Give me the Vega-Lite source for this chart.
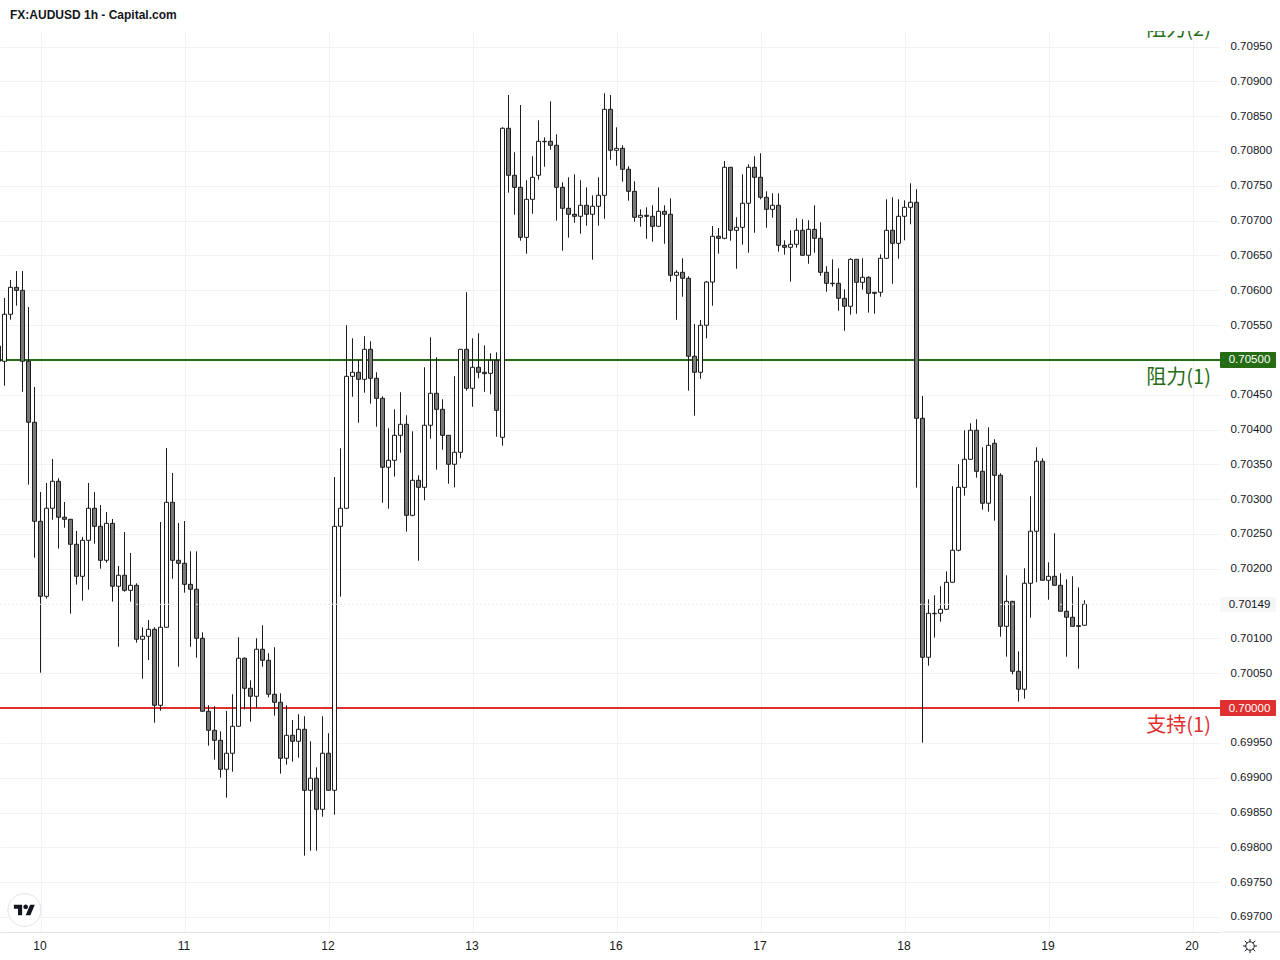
{
  "$schema": "https://vega.github.io/schema/vega-lite/v6.json",
  "width": 1220,
  "height": 901,
  "autosize": {"type": "none"},
  "padding": {"left": 0, "top": 31, "right": 60, "bottom": 28},
  "background": "white",
  "title": {"text": "FX:AUDUSD 1h - Capital.com", "anchor": "start", "frame": "group", "dx": 10, "offset": 9, "fontSize": 12, "fontWeight": "bold", "font": "Liberation Sans", "color": "#131722"},
  "datasets": {
    "levels": [
      {"price": 0.71, "name": "阻力(2)", "kind": "resistance"},
      {"price": 0.705, "name": "阻力(1)", "kind": "resistance"},
      {"price": 0.7, "name": "支持(1)", "kind": "support"}
    ],
    "last": [{"price": 0.70149}],
    "candles": [
      {"t":-7,"o":0.704980,"h":0.705286,"l":0.704980,"c":0.705199},
      {"t":-6,"o":0.704980,"h":0.705889,"l":0.704629,"c":0.705655},
      {"t":-5,"o":0.705655,"h":0.706147,"l":0.705577,"c":0.706042},
      {"t":-4,"o":0.706042,"h":0.706276,"l":0.705778,"c":0.705999},
      {"t":-3,"o":0.705999,"h":0.706276,"l":0.704543,"c":0.704980},
      {"t":-2,"o":0.704980,"h":0.705759,"l":0.703208,"c":0.704104},
      {"t":-1,"o":0.704104,"h":0.704611,"l":0.702159,"c":0.702682},
      {"t":0,"o":0.702682,"h":0.703103,"l":0.700508,"c":0.701605},
      {"t":1,"o":0.701605,"h":0.703232,"l":0.701571,"c":0.702869},
      {"t":2,"o":0.702869,"h":0.703577,"l":0.702705,"c":0.703257},
      {"t":3,"o":0.703257,"h":0.703300,"l":0.702289,"c":0.702740},
      {"t":4,"o":0.702740,"h":0.702959,"l":0.702590,"c":0.702711},
      {"t":5,"o":0.702711,"h":0.702711,"l":0.701355,"c":0.702352},
      {"t":6,"o":0.702352,"h":0.702543,"l":0.701772,"c":0.701892},
      {"t":7,"o":0.701892,"h":0.702457,"l":0.701542,"c":0.702409},
      {"t":8,"o":0.702409,"h":0.703232,"l":0.701700,"c":0.702869},
      {"t":9,"o":0.702869,"h":0.703103,"l":0.702360,"c":0.702610},
      {"t":10,"o":0.702610,"h":0.702916,"l":0.702001,"c":0.702122},
      {"t":11,"o":0.702122,"h":0.702816,"l":0.702088,"c":0.702653},
      {"t":12,"o":0.702653,"h":0.702715,"l":0.701528,"c":0.701749},
      {"t":13,"o":0.701749,"h":0.702040,"l":0.700881,"c":0.701907},
      {"t":14,"o":0.701907,"h":0.702528,"l":0.701671,"c":0.701691},
      {"t":15,"o":0.701691,"h":0.702227,"l":0.701528,"c":0.701763},
      {"t":16,"o":0.701763,"h":0.701792,"l":0.700939,"c":0.700988},
      {"t":17,"o":0.700988,"h":0.701160,"l":0.700422,"c":0.701031},
      {"t":18,"o":0.701031,"h":0.701265,"l":0.700690,"c":0.701131},
      {"t":19,"o":0.701131,"h":0.701160,"l":0.699790,"c":0.700040},
      {"t":20,"o":0.700040,"h":0.702672,"l":0.699962,"c":0.701160},
      {"t":21,"o":0.701160,"h":0.703735,"l":0.701160,"c":0.702955},
      {"t":22,"o":0.702955,"h":0.703376,"l":0.701858,"c":0.702122},
      {"t":23,"o":0.702122,"h":0.702658,"l":0.700594,"c":0.702079},
      {"t":24,"o":0.702079,"h":0.702686,"l":0.701657,"c":0.701777},
      {"t":25,"o":0.701777,"h":0.702251,"l":0.700881,"c":0.701706},
      {"t":26,"o":0.701706,"h":0.702251,"l":0.700723,"c":0.701002},
      {"t":27,"o":0.701002,"h":0.701088,"l":0.699954,"c":0.699954},
      {"t":28,"o":0.699954,"h":0.700040,"l":0.699460,"c":0.699681},
      {"t":29,"o":0.699681,"h":0.700026,"l":0.699259,"c":0.699537},
      {"t":30,"o":0.699537,"h":0.699666,"l":0.699000,"c":0.699121},
      {"t":31,"o":0.699121,"h":0.699958,"l":0.698713,"c":0.699351},
      {"t":32,"o":0.699351,"h":0.700198,"l":0.699086,"c":0.699738},
      {"t":33,"o":0.699738,"h":0.701016,"l":0.699738,"c":0.700715},
      {"t":34,"o":0.700715,"h":0.700729,"l":0.699983,"c":0.700284},
      {"t":35,"o":0.700284,"h":0.700399,"l":0.699804,"c":0.700169},
      {"t":36,"o":0.700169,"h":0.701002,"l":0.699997,"c":0.700844},
      {"t":37,"o":0.700844,"h":0.701189,"l":0.700594,"c":0.700686},
      {"t":38,"o":0.700686,"h":0.700787,"l":0.700155,"c":0.700198},
      {"t":39,"o":0.700198,"h":0.700873,"l":0.699891,"c":0.700083},
      {"t":40,"o":0.700083,"h":0.700212,"l":0.699058,"c":0.699279},
      {"t":41,"o":0.699279,"h":0.700040,"l":0.699187,"c":0.699609},
      {"t":42,"o":0.699609,"h":0.699829,"l":0.699230,"c":0.699523},
      {"t":43,"o":0.699523,"h":0.699911,"l":0.699287,"c":0.699695},
      {"t":44,"o":0.699695,"h":0.699882,"l":0.697880,"c":0.698819},
      {"t":45,"o":0.698819,"h":0.699523,"l":0.697952,"c":0.698992},
      {"t":46,"o":0.698992,"h":0.699149,"l":0.697952,"c":0.698546},
      {"t":47,"o":0.698546,"h":0.699882,"l":0.698440,"c":0.699351},
      {"t":48,"o":0.699351,"h":0.699638,"l":0.698819,"c":0.698819},
      {"t":49,"o":0.698819,"h":0.703318,"l":0.698469,"c":0.702610},
      {"t":50,"o":0.702610,"h":0.703730,"l":0.701599,"c":0.702869},
      {"t":51,"o":0.702869,"h":0.705497,"l":0.702869,"c":0.704764},
      {"t":52,"o":0.704764,"h":0.705310,"l":0.704471,"c":0.704822},
      {"t":53,"o":0.704822,"h":0.704998,"l":0.704098,"c":0.704721},
      {"t":54,"o":0.704721,"h":0.705339,"l":0.704529,"c":0.705152},
      {"t":55,"o":0.705152,"h":0.705267,"l":0.704371,"c":0.704736},
      {"t":56,"o":0.704736,"h":0.704822,"l":0.704041,"c":0.704448},
      {"t":57,"o":0.704448,"h":0.704477,"l":0.702949,"c":0.703458},
      {"t":58,"o":0.703458,"h":0.704018,"l":0.702863,"c":0.703558},
      {"t":59,"o":0.703558,"h":0.704290,"l":0.703323,"c":0.703917},
      {"t":60,"o":0.703917,"h":0.704535,"l":0.703667,"c":0.704075},
      {"t":61,"o":0.704075,"h":0.704204,"l":0.702533,"c":0.702768},
      {"t":62,"o":0.702768,"h":0.703975,"l":0.702754,"c":0.703271},
      {"t":63,"o":0.703271,"h":0.703343,"l":0.702116,"c":0.703170},
      {"t":64,"o":0.703170,"h":0.704894,"l":0.702984,"c":0.704061},
      {"t":65,"o":0.704061,"h":0.705324,"l":0.703868,"c":0.704520},
      {"t":66,"o":0.704520,"h":0.705037,"l":0.703423,"c":0.704290},
      {"t":67,"o":0.704290,"h":0.704434,"l":0.703710,"c":0.703917},
      {"t":68,"o":0.703917,"h":0.703917,"l":0.703222,"c":0.703501},
      {"t":69,"o":0.703501,"h":0.704764,"l":0.703170,"c":0.703673},
      {"t":70,"o":0.703673,"h":0.705152,"l":0.703587,"c":0.705152},
      {"t":71,"o":0.705152,"h":0.705971,"l":0.704558,"c":0.704592},
      {"t":72,"o":0.704592,"h":0.705310,"l":0.704328,"c":0.704894},
      {"t":73,"o":0.704894,"h":0.705382,"l":0.704736,"c":0.704822},
      {"t":74,"o":0.704822,"h":0.705209,"l":0.704543,"c":0.704802},
      {"t":75,"o":0.704807,"h":0.705095,"l":0.704506,"c":0.704994},
      {"t":76,"o":0.704994,"h":0.705109,"l":0.703897,"c":0.704276},
      {"t":77,"o":0.703888,"h":0.708340,"l":0.703768,"c":0.708326},
      {"t":78,"o":0.708326,"h":0.708804,"l":0.707401,"c":0.707651},
      {"t":79,"o":0.707651,"h":0.707981,"l":0.707085,"c":0.707478},
      {"t":80,"o":0.707478,"h":0.708660,"l":0.706712,"c":0.706760},
      {"t":81,"o":0.706760,"h":0.707579,"l":0.706525,"c":0.707306},
      {"t":82,"o":0.707306,"h":0.707924,"l":0.707099,"c":0.707622},
      {"t":83,"o":0.707651,"h":0.708440,"l":0.707588,"c":0.708139},
      {"t":84,"o":0.708133,"h":0.708196,"l":0.707774,"c":0.708139},
      {"t":85,"o":0.708139,"h":0.708713,"l":0.708018,"c":0.708082},
      {"t":86,"o":0.708082,"h":0.708239,"l":0.706999,"c":0.707478},
      {"t":87,"o":0.707478,"h":0.707550,"l":0.706568,"c":0.707177},
      {"t":88,"o":0.707177,"h":0.707622,"l":0.706755,"c":0.707091},
      {"t":89,"o":0.707091,"h":0.707665,"l":0.706970,"c":0.707062},
      {"t":90,"o":0.707062,"h":0.707579,"l":0.706812,"c":0.707220},
      {"t":91,"o":0.707220,"h":0.707478,"l":0.706927,"c":0.707091},
      {"t":92,"o":0.707091,"h":0.707363,"l":0.706439,"c":0.707206},
      {"t":93,"o":0.707206,"h":0.707622,"l":0.706927,"c":0.707363},
      {"t":94,"o":0.707363,"h":0.708828,"l":0.707027,"c":0.708598},
      {"t":95,"o":0.708598,"h":0.708804,"l":0.707875,"c":0.708010},
      {"t":96,"o":0.708010,"h":0.708340,"l":0.707788,"c":0.708038},
      {"t":97,"o":0.708038,"h":0.708082,"l":0.707559,"c":0.707737},
      {"t":98,"o":0.707737,"h":0.707780,"l":0.707286,"c":0.707421},
      {"t":99,"o":0.707421,"h":0.707565,"l":0.706984,"c":0.707048},
      {"t":100,"o":0.707048,"h":0.707162,"l":0.706913,"c":0.707076},
      {"t":101,"o":0.707076,"h":0.707191,"l":0.706740,"c":0.707062},
      {"t":102,"o":0.707062,"h":0.707220,"l":0.706697,"c":0.706918},
      {"t":103,"o":0.706918,"h":0.707478,"l":0.706918,"c":0.707134},
      {"t":104,"o":0.707134,"h":0.707220,"l":0.706668,"c":0.707091},
      {"t":105,"o":0.707091,"h":0.707320,"l":0.706123,"c":0.706215},
      {"t":106,"o":0.706215,"h":0.706287,"l":0.705577,"c":0.706258},
      {"t":107,"o":0.706258,"h":0.706459,"l":0.705907,"c":0.706172},
      {"t":108,"o":0.706172,"h":0.706200,"l":0.704558,"c":0.705052},
      {"t":109,"o":0.705052,"h":0.705515,"l":0.704199,"c":0.704822},
      {"t":110,"o":0.704822,"h":0.705573,"l":0.704730,"c":0.705497},
      {"t":111,"o":0.705497,"h":0.706133,"l":0.705310,"c":0.706118},
      {"t":112,"o":0.706118,"h":0.706923,"l":0.705778,"c":0.706775},
      {"t":113,"o":0.706775,"h":0.706894,"l":0.706525,"c":0.706746},
      {"t":114,"o":0.706746,"h":0.707856,"l":0.706732,"c":0.707766},
      {"t":115,"o":0.707766,"h":0.707766,"l":0.706712,"c":0.706861},
      {"t":116,"o":0.706861,"h":0.707048,"l":0.706309,"c":0.706904},
      {"t":117,"o":0.706904,"h":0.707665,"l":0.706654,"c":0.707249},
      {"t":118,"o":0.707249,"h":0.707809,"l":0.706539,"c":0.707766},
      {"t":119,"o":0.707766,"h":0.707924,"l":0.706826,"c":0.707622},
      {"t":120,"o":0.707622,"h":0.707967,"l":0.707306,"c":0.707335},
      {"t":121,"o":0.707335,"h":0.707421,"l":0.706898,"c":0.707162},
      {"t":122,"o":0.707162,"h":0.707392,"l":0.707042,"c":0.707220},
      {"t":123,"o":0.707220,"h":0.707392,"l":0.706554,"c":0.706645},
      {"t":124,"o":0.706645,"h":0.706717,"l":0.706511,"c":0.706617},
      {"t":125,"o":0.706617,"h":0.706861,"l":0.706123,"c":0.706660},
      {"t":126,"o":0.706660,"h":0.707033,"l":0.706611,"c":0.706861},
      {"t":127,"o":0.706861,"h":0.707019,"l":0.706502,"c":0.706502},
      {"t":128,"o":0.706502,"h":0.707005,"l":0.706381,"c":0.706875},
      {"t":129,"o":0.706875,"h":0.707220,"l":0.706539,"c":0.706746},
      {"t":130,"o":0.706746,"h":0.706976,"l":0.706209,"c":0.706258},
      {"t":131,"o":0.706258,"h":0.706344,"l":0.705979,"c":0.706100},
      {"t":132,"o":0.706100,"h":0.706444,"l":0.706051,"c":0.706094},
      {"t":133,"o":0.706100,"h":0.706315,"l":0.705706,"c":0.705884},
      {"t":134,"o":0.705884,"h":0.706014,"l":0.705419,"c":0.705770},
      {"t":135,"o":0.705770,"h":0.706459,"l":0.705649,"c":0.706444},
      {"t":136,"o":0.706444,"h":0.706444,"l":0.705663,"c":0.706114},
      {"t":137,"o":0.706114,"h":0.706459,"l":0.706008,"c":0.706186},
      {"t":138,"o":0.706186,"h":0.706200,"l":0.705678,"c":0.705956},
      {"t":139,"o":0.705971,"h":0.705971,"l":0.705663,"c":0.705956},
      {"t":140,"o":0.705971,"h":0.706516,"l":0.705907,"c":0.706459},
      {"t":141,"o":0.706459,"h":0.707306,"l":0.706459,"c":0.706861},
      {"t":142,"o":0.706861,"h":0.707335,"l":0.706094,"c":0.706674},
      {"t":143,"o":0.706674,"h":0.707306,"l":0.706453,"c":0.707062},
      {"t":144,"o":0.707062,"h":0.707292,"l":0.706717,"c":0.707191},
      {"t":145,"o":0.707191,"h":0.707536,"l":0.706947,"c":0.707263},
      {"t":146,"o":0.707263,"h":0.707450,"l":0.703165,"c":0.704161},
      {"t":147,"o":0.704161,"h":0.704481,"l":0.699503,"c":0.700729},
      {"t":148,"o":0.700729,"h":0.701562,"l":0.700609,"c":0.701361},
      {"t":149,"o":0.701361,"h":0.701619,"l":0.701011,"c":0.701355},
      {"t":150,"o":0.701361,"h":0.701749,"l":0.701240,"c":0.701418},
      {"t":151,"o":0.701418,"h":0.701964,"l":0.701418,"c":0.701806},
      {"t":152,"o":0.701806,"h":0.703185,"l":0.701806,"c":0.702266},
      {"t":153,"o":0.702266,"h":0.703501,"l":0.702251,"c":0.703170},
      {"t":154,"o":0.703170,"h":0.703989,"l":0.703050,"c":0.703572},
      {"t":155,"o":0.703572,"h":0.704089,"l":0.703572,"c":0.703989},
      {"t":156,"o":0.703989,"h":0.704147,"l":0.703308,"c":0.703400},
      {"t":157,"o":0.703400,"h":0.703745,"l":0.702849,"c":0.702941},
      {"t":158,"o":0.702941,"h":0.704032,"l":0.702820,"c":0.703773},
      {"t":159,"o":0.703802,"h":0.703860,"l":0.702691,"c":0.703343},
      {"t":160,"o":0.703343,"h":0.703371,"l":0.701025,"c":0.701174},
      {"t":161,"o":0.701174,"h":0.701907,"l":0.700738,"c":0.701533},
      {"t":162,"o":0.701533,"h":0.701533,"l":0.700485,"c":0.700528},
      {"t":163,"o":0.700528,"h":0.700815,"l":0.700092,"c":0.700270},
      {"t":164,"o":0.700270,"h":0.702007,"l":0.700135,"c":0.701792},
      {"t":165,"o":0.701792,"h":0.703041,"l":0.701298,"c":0.702539},
      {"t":166,"o":0.702539,"h":0.703745,"l":0.701806,"c":0.703544},
      {"t":167,"o":0.703544,"h":0.703587,"l":0.701835,"c":0.701835},
      {"t":168,"o":0.701835,"h":0.702093,"l":0.701556,"c":0.701892},
      {"t":169,"o":0.701892,"h":0.702510,"l":0.701763,"c":0.701763},
      {"t":170,"o":0.701763,"h":0.701935,"l":0.701390,"c":0.701390},
      {"t":171,"o":0.701390,"h":0.701849,"l":0.700738,"c":0.701304},
      {"t":172,"o":0.701304,"h":0.701892,"l":0.701174,"c":0.701174},
      {"t":173,"o":0.701183,"h":0.701734,"l":0.700565,"c":0.701174},
      {"t":174,"o":0.701189,"h":0.701548,"l":0.701189,"c":0.701490}
    ]
  },
  "layer": [
    {
      "data": {"name": "levels"},
      "transform": [{"filter": "datum.price < 0.71"}],
      "mark": {"type": "rule", "strokeWidth": 2, "clip": true},
      "encoding": {
        "x": {
          "datum": -6.75,
          "type": "quantitative",
          "title": null,
          "scale": {"domain": [-6.75, 196.583], "nice": false, "zero": false, "padding": 0},
          "axis": {
            "values": [0, 24, 48, 72, 96, 120, 144, 168, 192],
            "labelExpr": "['10','11','12','13','16','17','18','19','20'][datum.value / 24]",
            "grid": true,
            "gridColor": "#f0f3f6",
            "ticks": false,
            "domainColor": "#e0e3eb",
            "labelFont": "Liberation Sans",
            "labelFontSize": 12,
            "labelColor": "#131722",
            "labelPadding": 8,
            "labelOffset": -1,
            "labelFlush": false
          }
        },
        "x2": {"datum": 196.583},
        "y": {
          "field": "price",
          "type": "quantitative",
          "title": null,
          "scale": {"domain": [0.696784, 0.709723], "nice": false, "zero": false, "padding": 0},
          "axis": {
            "orient": "right",
            "values": [0.697, 0.6975, 0.698, 0.6985, 0.699, 0.6995, 0.7005, 0.701, 0.702, 0.7025, 0.703, 0.7035, 0.704, 0.7045, 0.7055, 0.706, 0.7065, 0.707, 0.7075, 0.708, 0.7085, 0.709, 0.7095],
            "format": ".5f",
            "grid": true,
            "gridColor": "#f0f3f6",
            "ticks": false,
            "domain": false,
            "labelFont": "Liberation Sans",
            "labelFontSize": 11.5,
            "labelColor": "#131722",
            "labelPadding": 10,
            "labelBound": false,
            "labelFlush": false
          }
        },
        "color": {"field": "kind", "type": "nominal", "scale": {"domain": ["resistance", "support"], "range": ["#266c14", "#e02f2f"]}, "legend": null}
      }
    },
    {
      "data": {"name": "candles"},
      "mark": {"type": "rule", "color": "#1c1c1c", "strokeWidth": 1, "clip": true},
      "encoding": {
        "x": {"field": "t", "type": "quantitative", "title": null},
        "y": {"field": "l", "type": "quantitative", "title": null, "axis": {"orient": "right"}},
        "y2": {"field": "h"}
      }
    },
    {
      "data": {"name": "candles"},
      "mark": {"type": "bar", "size": 4, "stroke": "#1c1c1c", "strokeWidth": 1, "clip": true, "orient": "vertical"},
      "encoding": {
        "x": {"field": "t", "type": "quantitative", "title": null},
        "y": {"field": "o", "type": "quantitative", "title": null, "axis": {"orient": "right"}},
        "y2": {"field": "c"},
        "fill": {"condition": {"test": "datum.c >= datum.o", "value": "#ffffff"}, "value": "#787878"}
      }
    },
    {
      "data": {"name": "last"},
      "mark": {"type": "rule", "color": "#eeeef0", "strokeWidth": 1, "strokeDash": [2, 2], "clip": true},
      "encoding": {
        "x": {"datum": -6.75, "type": "quantitative", "title": null},
        "x2": {"datum": 196.583},
        "y": {"field": "price", "type": "quantitative", "title": null, "axis": {"orient": "right"}}
      }
    },
    {
      "data": {"name": "levels"},
      "mark": {"type": "text", "font": "Noto Sans CJK SC", "fontSize": 20, "align": "right", "baseline": "middle", "dy": 18, "clip": true},
      "encoding": {
        "x": {"datum": 195.08, "type": "quantitative", "title": null},
        "y": {"field": "price", "type": "quantitative", "title": null, "axis": {"orient": "right"}},
        "text": {"field": "name"},
        "color": {"field": "kind", "type": "nominal", "legend": null}
      }
    },
    {
      "data": {"name": "levels"},
      "transform": [{"filter": "datum.price < 0.71"}],
      "mark": {"type": "bar", "size": 16, "orient": "horizontal", "cornerRadius": 1},
      "encoding": {
        "x": {"datum": 196.583, "type": "quantitative", "title": null},
        "x2": {"datum": 205.917},
        "y": {"field": "price", "type": "quantitative", "title": null, "axis": {"orient": "right"}},
        "color": {"field": "kind", "type": "nominal", "legend": null}
      }
    },
    {
      "data": {"name": "levels"},
      "transform": [{"filter": "datum.price < 0.71"}],
      "mark": {"type": "text", "font": "Liberation Sans", "fontSize": 11.5, "align": "center", "baseline": "middle", "color": "#ffffff", "dy": 0.5},
      "encoding": {
        "x": {"datum": 201.5, "type": "quantitative", "title": null},
        "y": {"field": "price", "type": "quantitative", "title": null, "axis": {"orient": "right"}},
        "text": {"field": "price", "format": ".5f"}
      }
    },
    {
      "data": {"name": "last"},
      "mark": {"type": "bar", "size": 15, "orient": "horizontal", "color": "#f6f6f7", "cornerRadius": 1},
      "encoding": {
        "x": {"datum": 196.583, "type": "quantitative", "title": null},
        "x2": {"datum": 205.917},
        "y": {"field": "price", "type": "quantitative", "title": null, "axis": {"orient": "right"}}
      }
    },
    {
      "data": {"name": "last"},
      "mark": {"type": "text", "font": "Liberation Sans", "fontSize": 11.5, "align": "center", "baseline": "middle", "color": "#131722", "dy": 0.5},
      "encoding": {
        "x": {"datum": 201.5, "type": "quantitative", "title": null},
        "y": {"field": "price", "type": "quantitative", "title": null, "axis": {"orient": "right"}},
        "text": {"field": "price", "format": ".5f"}
      }
    },
    {
      "data": {"values": [{"corner": "axis"}]},
      "mark": {"type": "rule", "color": "#e0e3eb", "strokeWidth": 1},
      "encoding": {
        "x": {"datum": 196.75, "type": "quantitative", "title": null},
        "x2": {"datum": 206.583},
        "y": {"datum": 0.696784, "type": "quantitative", "title": null, "axis": {"orient": "right"}}
      }
    },
    {
      "data": {"values": [{"corner": "logo"}]},
      "mark": {"type": "point", "shape": "circle", "filled": true, "fill": "#ffffff", "stroke": "#e0e3eb", "strokeWidth": 1, "size": 1089, "opacity": 1},
      "encoding": {
        "x": {"datum": -2.667, "type": "quantitative", "title": null},
        "y": {"datum": 0.6971, "type": "quantitative", "title": null, "axis": {"orient": "right"}}
      }
    },
    {
      "data": {"values": [{"corner": "logo"}]},
      "mark": {"type": "point", "shape": "M-0.111 0.25L-0.306 0.25L-0.306 -0.056L-0.5 -0.056L-0.5 -0.25L-0.111 -0.25ZM0.278 0.25L0.056 0.25L0.264 -0.25L0.486 -0.25ZM-0.055 -0.153A0.111 0.111 0 1 0 0.167 -0.153A0.111 0.111 0 1 0 -0.055 -0.153Z", "filled": true, "fill": "#131722", "strokeWidth": 0, "size": 1800, "opacity": 1},
      "encoding": {
        "x": {"datum": -2.667, "type": "quantitative", "title": null},
        "y": {"datum": 0.6971, "type": "quantitative", "title": null, "axis": {"orient": "right"}}
      }
    },
    {
      "data": {"values": [{"corner": "settings"}]},
      "mark": {"type": "point", "shape": "M-0.3 0A0.3 0.3 0 1 0 0.3 0A0.3 0.3 0 1 0 -0.3 0ZM0 -0.5L0 -0.3M0 0.3L0 0.5M-0.5 0L-0.3 0M0.3 0L0.5 0M-0.37 -0.37L-0.22 -0.22M0.22 0.22L0.37 0.37M-0.37 0.37L-0.22 0.22M0.22 -0.22L0.37 -0.37", "filled": false, "stroke": "#131722", "strokeWidth": 1, "size": 784, "opacity": 1},
      "encoding": {
        "x": {"datum": 201.583, "type": "quantitative", "title": null},
        "y": {"datum": 0.696583, "type": "quantitative", "title": null, "axis": {"orient": "right"}}
      }
    }
  ],
  "config": {
    "axis": {"labelOverlap": false},
    "style": {"cell": {"stroke": "transparent"}}
  }
}
